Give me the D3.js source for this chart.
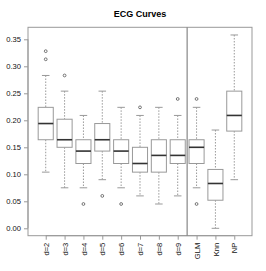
<!DOCTYPE html>
<html>
<head>
<meta charset="utf-8">
<script src="https://cdn.jsdelivr.net/npm/d3@7"></script>
<style>
  body { margin: 0; background: #fff; }
  svg text { font-family: "Liberation Sans", Arial, Helvetica, sans-serif; }
</style>
</head>
<body>
<div id="chart"></div>
<script>
var categories = ["d=2", "d=3", "d=4", "d=5", "d=6", "d=7", "d=8", "d=9", "GLM", "Knn", "NP"];
var lowerWhisker = [0.104, 0.075, 0.075, 0.090, 0.075, 0.060, 0.045, 0.060, 0.075, 0.000, 0.090];
var q1Values     = [0.164, 0.150, 0.120, 0.143, 0.120, 0.104, 0.104, 0.120, 0.120, 0.052, 0.180];
var medianValues = [0.194, 0.164, 0.143, 0.164, 0.143, 0.120, 0.135, 0.135, 0.150, 0.083, 0.209];
var q3Values     = [0.224, 0.202, 0.164, 0.194, 0.164, 0.150, 0.164, 0.164, 0.164, 0.109, 0.254];
var upperWhisker = [0.283, 0.254, 0.209, 0.254, 0.224, 0.209, 0.224, 0.209, 0.224, 0.182, 0.358];
var outliers     = [[0.313, 0.328], [0.283], [0.045], [0.060], [0.045], [0.224], [], [0.2395], [0.2395, 0.045], [], []];
var yTicks = [0.00, 0.05, 0.10, 0.15, 0.20, 0.25, 0.30, 0.35];

var width = 266, height = 271;
var plotLeft = 28, plotRight = 252, plotTop = 27.3, plotBottom = 235.7;

var svg = d3.select("#chart")
    .append("svg")
    .attr("width", width)
    .attr("height", height);

var x = d3.scaleLinear()
    .domain([0.06, 11.94])
    .range([plotLeft, plotRight]);

var y = d3.scaleLinear()
    .domain([0, 0.35])
    .range([228.3, 39.3]);

var boxW = 0.8, stapleW = 0.4;
var boxCol = "#999", medCol = "#333";

// title
svg.append("text")
    .attr("x", (plotLeft + plotRight) / 2)
    .attr("y", 17)
    .attr("text-anchor", "middle")
    .attr("font-size", "9px")
    .attr("font-weight", "bold")
    .text("ECG Curves");

// axes
var yAxis = d3.axisLeft(y)
    .tickValues(yTicks)
    .tickFormat(d3.format(".2f"))
    .tickSize(4)
    .tickPadding(3);

var gy = svg.append("g")
    .attr("transform", "translate(" + plotLeft + ",0)")
    .call(yAxis);
gy.selectAll("text").attr("font-size", "7.6px").attr("fill", "#111").attr("font-family", null);
gy.selectAll("line,path").attr("stroke", boxCol);
gy.select("path").attr("d", "M0," + y(0) + "V" + y(0.35));

var xAxis = d3.axisBottom(x)
    .tickValues(d3.range(1, categories.length + 1))
    .tickFormat(function(d) { return categories[d - 1]; })
    .tickSize(4);

var gx = svg.append("g")
    .attr("transform", "translate(0," + plotBottom + ")")
    .call(xAxis);
gx.selectAll("line,path").attr("stroke", boxCol);
gx.select("path").attr("d", "M" + x(1) + ",0H" + x(categories.length));
gx.selectAll("text")
    .attr("font-size", "7.6px")
    .attr("fill", "#111")
    .attr("font-family", null)
    .attr("transform", "rotate(-90)")
    .attr("text-anchor", "end")
    .attr("x", -7)
    .attr("y", 0)
    .attr("dy", "0.35em");

// frame
svg.append("rect")
    .attr("x", plotLeft)
    .attr("y", plotTop)
    .attr("width", plotRight - plotLeft)
    .attr("height", plotBottom - plotTop)
    .attr("fill", "none")
    .attr("stroke", boxCol)
    .attr("stroke-width", 1);

// separator
svg.append("line")
    .attr("x1", x(8.5)).attr("x2", x(8.5))
    .attr("y1", plotTop).attr("y2", plotBottom)
    .attr("stroke", "#888")
    .attr("stroke-width", 1.2);

var node = svg.selectAll(".box")
    .data(categories)
    .enter()
    .append("g")
    .attr("class", "box");

// whiskers
node.append("line")
    .attr("x1", function(d, i) { return x(i + 1); })
    .attr("x2", function(d, i) { return x(i + 1); })
    .attr("y1", function(d, i) { return y(upperWhisker[i]); })
    .attr("y2", function(d, i) { return y(q3Values[i]); })
    .attr("stroke", boxCol).attr("stroke-dasharray", "1.5,1.5");
node.append("line")
    .attr("x1", function(d, i) { return x(i + 1); })
    .attr("x2", function(d, i) { return x(i + 1); })
    .attr("y1", function(d, i) { return y(q1Values[i]); })
    .attr("y2", function(d, i) { return y(lowerWhisker[i]); })
    .attr("stroke", boxCol).attr("stroke-dasharray", "1.5,1.5");

// staples
[upperWhisker, lowerWhisker].forEach(function(arr) {
    node.append("line")
        .attr("x1", function(d, i) { return x(i + 1 - stapleW / 2); })
        .attr("x2", function(d, i) { return x(i + 1 + stapleW / 2); })
        .attr("y1", function(d, i) { return y(arr[i]); })
        .attr("y2", function(d, i) { return y(arr[i]); })
        .attr("stroke", boxCol);
});

// boxes
node.append("rect")
    .attr("x", function(d, i) { return x(i + 1 - boxW / 2); })
    .attr("width", x(boxW) - x(0))
    .attr("y", function(d, i) { return y(q3Values[i]); })
    .attr("height", function(d, i) { return y(q1Values[i]) - y(q3Values[i]); })
    .attr("fill", "#fff")
    .attr("stroke", boxCol);

// medians
node.append("line")
    .attr("x1", function(d, i) { return x(i + 1 - boxW / 2); })
    .attr("x2", function(d, i) { return x(i + 1 + boxW / 2); })
    .attr("y1", function(d, i) { return y(medianValues[i]); })
    .attr("y2", function(d, i) { return y(medianValues[i]); })
    .attr("stroke", medCol)
    .attr("stroke-width", 1.6);

// outliers
node.each(function(d, i) {
    d3.select(this).selectAll("circle")
        .data(outliers[i])
        .enter()
        .append("circle")
        .attr("cx", x(i + 1))
        .attr("cy", function(v) { return y(v); })
        .attr("r", 1.4)
        .attr("fill", "none")
        .attr("stroke", "#555")
        .attr("stroke-width", 0.8);
});
</script>
</body>
</html>
